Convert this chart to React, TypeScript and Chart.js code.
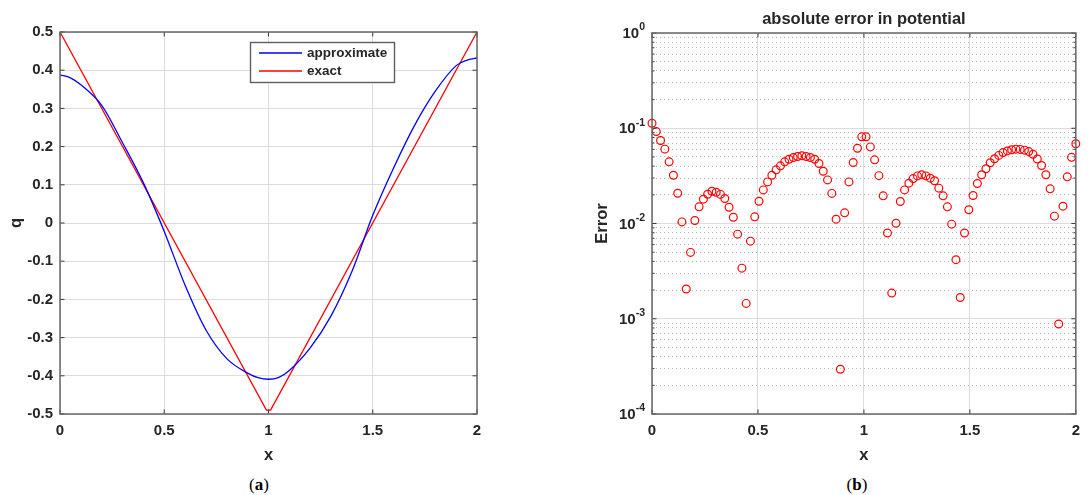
import React, { useEffect, useRef } from "react";
import { Chart, registerables } from "chart.js";

Chart.register(...registerables);

const FONT = "'Liberation Sans', Arial, Helvetica, sans-serif";
const INK = "#262626";
const GRID = "#dcdcdc";
const MINOR_GRID = "#b9b9b9";

// ---------- panel (a): q against x ----------
const approxX = [0, 0.05, 0.1, 0.2, 0.3, 0.4, 0.5, 0.6, 0.7, 0.8, 0.9, 0.95, 1.0, 1.05, 1.1, 1.2, 1.3, 1.4, 1.5, 1.6, 1.7, 1.8, 1.9, 1.95, 2.0];
const approxY = [0.388, 0.38, 0.362, 0.308, 0.21, 0.105, -0.022, -0.163, -0.28, -0.355, -0.393, -0.405, -0.409, -0.404, -0.386, -0.327, -0.243, -0.127, 0.02, 0.144, 0.255, 0.345, 0.412, 0.426, 0.432];
const exactX = [0, 0.99, 1.01, 2];
const exactY = [0.5, -0.49, -0.49, 0.5];
const seriesLabels = ["approximate", "exact"];
const xTickValues = [0, 0.5, 1, 1.5, 2];
const qTickValues = [-0.5, -0.4, -0.3, -0.2, -0.1, 0, 0.1, 0.2, 0.3, 0.4, 0.5];

// ---------- panel (b): absolute error in potential ----------
const errX = [
  0, 0.0202, 0.0404, 0.0606, 0.0808, 0.101, 0.1212, 0.1414, 0.1616, 0.1818,
  0.202, 0.2222, 0.2424, 0.2626, 0.2828, 0.303, 0.3232, 0.3434, 0.3636, 0.3838,
  0.404, 0.4242, 0.4444, 0.4646, 0.4848, 0.5051, 0.5253, 0.5455, 0.5657, 0.5859,
  0.6061, 0.6263, 0.6465, 0.6667, 0.6869, 0.7071, 0.7273, 0.7475, 0.7677, 0.7879,
  0.8081, 0.8283, 0.8485, 0.8687, 0.8889, 0.9091, 0.9293, 0.9495, 0.9697, 0.9899,
  1.0101, 1.0303, 1.0505, 1.0707, 1.0909, 1.1111, 1.1313, 1.1515, 1.1717, 1.1919,
  1.2121, 1.2323, 1.2525, 1.2727, 1.2929, 1.3131, 1.3333, 1.3535, 1.3737, 1.3939,
  1.4141, 1.4343, 1.4545, 1.4747, 1.4949, 1.5152, 1.5354, 1.5556, 1.5758, 1.596,
  1.6162, 1.6364, 1.6566, 1.6768, 1.697, 1.7172, 1.7374, 1.7576, 1.7778, 1.798,
  1.8182, 1.8384, 1.8586, 1.8788, 1.899, 1.9192, 1.9394, 1.9596, 1.9798, 2.0,
];
const errY = [
  0.1127, 0.0923, 0.0743, 0.0603, 0.0444, 0.0321, 0.0208, 0.0104, 0.00205, 0.00497,
  0.01074, 0.01496, 0.018, 0.0203, 0.0218, 0.0213, 0.0202, 0.0183, 0.0148, 0.01164,
  0.00773, 0.0034, 0.00145, 0.00653, 0.01175, 0.01714, 0.02254, 0.02735, 0.0321, 0.0366,
  0.0403, 0.0444, 0.0473, 0.0492, 0.0505, 0.0513, 0.0505, 0.0492, 0.0473, 0.0427,
  0.0354, 0.0287, 0.0207, 0.0111, 0.000295, 0.01294, 0.02735, 0.0437, 0.0617, 0.0813,
  0.0813, 0.0637, 0.0466, 0.0318, 0.0195, 0.00794, 0.00186, 0.01007, 0.017, 0.02254,
  0.0265, 0.0296, 0.0316, 0.0324, 0.0316, 0.0299, 0.0281, 0.0235, 0.0195, 0.01496,
  0.00984, 0.00417, 0.00167, 0.00794, 0.01396, 0.0197, 0.0263, 0.0325, 0.0376, 0.0434,
  0.0479, 0.0519, 0.0555, 0.0578, 0.0594, 0.0603, 0.06, 0.0589, 0.0569, 0.0533,
  0.0476, 0.0406, 0.0325, 0.0231, 0.01194, 0.00088, 0.0152, 0.0309, 0.0495, 0.0687,
];
const decadeValues = [1, 0.1, 0.01, 0.001, 0.0001];
const decadeExponents = ["0", "-1", "-2", "-3", "-4"];
const mantissas = [1, 2, 3, 4, 5, 6, 7, 8, 9];

const logGridValues = decadeValues
  .flatMap((d) => mantissas.map((m) => m * d))
  .filter((v) => v <= 1.0000001);

const isDecade = (v: number) => {
  const l = Math.log10(v);
  return Math.abs(l - Math.round(l)) < 1e-6;
};

const fmt = (v: number) => String(Math.round(Number(v) * 10) / 10);

const matlabPlugin = {
  id: "matlab",
  afterDraw(chart: any, _args: any, opts: any) {
    const { ctx, chartArea: a, scales } = chart;
    const xs = scales.x;
    const ys = scales.y;
    ctx.save();
    const seg = (x1: number, y1: number, x2: number, y2: number) => {
      ctx.beginPath();
      ctx.moveTo(x1, y1);
      ctx.lineTo(x2, y2);
      ctx.stroke();
    };
    // inner tick marks on all four sides
    ctx.strokeStyle = "#3a3a3a";
    ctx.lineWidth = 1;
    for (const t of xs.ticks) {
      const px = xs.getPixelForValue(t.value);
      seg(px, a.bottom, px, a.bottom - 4.5);
      seg(px, a.top, px, a.top + 4.5);
    }
    for (const t of ys.ticks) {
      const py = ys.getPixelForValue(t.value);
      const len = opts.log ? (isDecade(t.value) ? 4.5 : 2.5) : 4.5;
      seg(a.left, py, a.left + len, py);
      seg(a.right, py, a.right - len, py);
    }
    // axes box
    ctx.strokeStyle = "#676767";
    ctx.lineWidth = 1.5;
    ctx.strokeRect(a.left, a.top, a.right - a.left, a.bottom - a.top);

    // log axis labels with superscript exponents
    if (opts.log) {
      const baseFont = `bold 15px ${FONT}`;
      const expFont = `bold 10.5px ${FONT}`;
      ctx.fillStyle = INK;
      ctx.textAlign = "left";
      ctx.textBaseline = "middle";
      decadeValues.forEach((v, i) => {
        const py = ys.getPixelForValue(v);
        const e = decadeExponents[i];
        ctx.font = expFont;
        const ew = ctx.measureText(e).width;
        ctx.font = baseFont;
        const bw = ctx.measureText("10").width;
        const right = a.left - 7;
        ctx.fillText("10", right - ew - bw, py + 1);
        ctx.font = expFont;
        ctx.fillText(e, right - ew, py - 5.5);
      });
    }

    // title
    if (opts.title) {
      ctx.fillStyle = INK;
      ctx.font = `bold 16.5px ${FONT}`;
      ctx.textAlign = "center";
      ctx.textBaseline = "middle";
      ctx.fillText(opts.title, (a.left + a.right) / 2, 19);
    }

    // boxed legend
    if (opts.legend) {
      const L = opts.legend;
      ctx.fillStyle = "#ffffff";
      ctx.fillRect(L.x, L.y, L.w, L.h);
      ctx.strokeStyle = "#5e5e5e";
      ctx.lineWidth = 1.4;
      ctx.strokeRect(L.x, L.y, L.w, L.h);
      chart.data.datasets.forEach((ds: any, i: number) => {
        const y = L.y + L.rowTop + i * L.rowGap;
        ctx.strokeStyle = ds.borderColor;
        ctx.lineWidth = ds.borderWidth;
        seg(L.x + 8.5, y, L.x + 51.5, y);
        ctx.fillStyle = INK;
        ctx.font = `bold 13.5px ${FONT}`;
        ctx.textAlign = "left";
        ctx.textBaseline = "middle";
        ctx.fillText(ds.label, L.x + 56.5, y + 0.5);
      });
    }
    ctx.restore();
  },
};

const tickFont = { family: FONT, size: 15, weight: "bold" as const };
const titleFont = { family: FONT, size: 16.5, weight: "bold" as const };

const xScale = () => ({
  type: "linear" as const,
  min: 0,
  max: 2,
  afterBuildTicks: (s: any) => {
    s.ticks = xTickValues.map((v) => ({ value: v }));
  },
  afterFit: (s: any) => {
    s.height = 56;
  },
  grid: { color: GRID, lineWidth: 1, drawTicks: false },
  border: { display: false },
  ticks: { color: INK, font: tickFont, padding: 8, maxRotation: 0, callback: (v: any) => fmt(v) },
  title: { display: true, text: "x", color: INK, font: titleFont, padding: { top: 0, bottom: 5 } },
});

export default function App() {
  const leftRef = useRef<HTMLCanvasElement>(null);
  const rightRef = useRef<HTMLCanvasElement>(null);

  useEffect(() => {
    const left = new Chart(leftRef.current as HTMLCanvasElement, {
      type: "scatter",
      data: {
        datasets: [
          {
            label: seriesLabels[0],
            data: approxX.map((x, i) => ({ x, y: approxY[i] })),
            showLine: true,
            borderColor: "#0000ff",
            borderWidth: 1.3,
            pointRadius: 0,
            cubicInterpolationMode: "monotone",
          } as any,
          {
            label: seriesLabels[1],
            data: exactX.map((x, i) => ({ x, y: exactY[i] })),
            showLine: true,
            borderColor: "#ff0000",
            borderWidth: 1.3,
            pointRadius: 0,
            tension: 0,
          } as any,
        ],
      },
      options: {
        responsive: false,
        animation: false,
        events: [],
        layout: { padding: { top: 32, right: 67, bottom: 0, left: 0 } },
        plugins: {
          legend: { display: false },
          tooltip: { enabled: false },
          matlab: { legend: { x: 250.5, y: 42.5, w: 144, h: 40, rowTop: 10.5, rowGap: 18 } },
        } as any,
        scales: {
          x: xScale(),
          y: {
            type: "linear",
            min: -0.5,
            max: 0.5,
            afterBuildTicks: (s: any) => {
              s.ticks = qTickValues.map((v) => ({ value: v }));
            },
            afterFit: (s: any) => {
              s.width = 60;
            },
            grid: { color: GRID, lineWidth: 1, drawTicks: false },
            border: { display: false },
            ticks: { color: INK, font: tickFont, padding: 7, callback: (v: any) => fmt(v) },
            title: { display: true, text: "q", color: INK, font: titleFont, padding: { top: 7, bottom: 0 } },
          },
        },
      } as any,
      plugins: [matlabPlugin],
    });

    const right = new Chart(rightRef.current as HTMLCanvasElement, {
      type: "scatter",
      data: {
        datasets: [
          {
            label: "error",
            data: errX.map((x, i) => ({ x, y: errY[i] })),
            showLine: false,
            pointStyle: "circle",
            pointRadius: 3.9,
            pointBorderWidth: 1.2,
            pointBorderColor: "#ff0000",
            pointBackgroundColor: "rgba(0,0,0,0)",
            clip: false,
          } as any,
        ],
      },
      options: {
        responsive: false,
        animation: false,
        events: [],
        layout: { padding: { top: 33, right: 7, bottom: 0, left: 0 } },
        plugins: {
          legend: { display: false },
          tooltip: { enabled: false },
          matlab: { log: true, title: "absolute error in potential" },
        } as any,
        scales: {
          x: xScale(),
          y: {
            type: "logarithmic",
            min: 0.0001,
            max: 1,
            afterBuildTicks: (s: any) => {
              s.ticks = logGridValues.map((v) => ({ value: v }));
            },
            afterFit: (s: any) => {
              s.width = 108;
            },
            grid: {
              color: (c: any) => (c.tick && isDecade(c.tick.value) ? GRID : MINOR_GRID),
              lineWidth: 1,
              drawTicks: false,
            },
            border: {
              display: false,
              dash: (c: any) => (c.tick && isDecade(c.tick.value) ? [] : [1, 3]),
            },
            ticks: { display: false },
            title: { display: true, text: "Error", color: INK, font: titleFont, padding: { top: 49, bottom: 0 } },
          },
        },
      } as any,
      plugins: [matlabPlugin],
    });

    return () => {
      left.destroy();
      right.destroy();
    };
  }, []);

  const capStyle: React.CSSProperties = {
    position: "absolute",
    top: 485,
    transform: "translate(-50%, -50%)",
    fontFamily: "'Liberation Serif', 'DejaVu Serif', serif",
    fontSize: 17,
    color: "#000",
    whiteSpace: "nowrap",
  };

  return (
    <div style={{ position: "fixed", left: 0, top: 0, width: 1088, height: 495, background: "#fff", overflow: "hidden" }}>
      <canvas ref={leftRef} width={544} height={470} style={{ position: "absolute", left: 0, top: 0, width: 544, height: 470 }} />
      <canvas ref={rightRef} width={544} height={470} style={{ position: "absolute", left: 544, top: 0, width: 544, height: 470 }} />
      <div style={{ ...capStyle, left: 259 }}>
        (<b>a</b>)
      </div>
      <div style={{ ...capStyle, left: 857 }}>
        (<b>b</b>)
      </div>
    </div>
  );
}
